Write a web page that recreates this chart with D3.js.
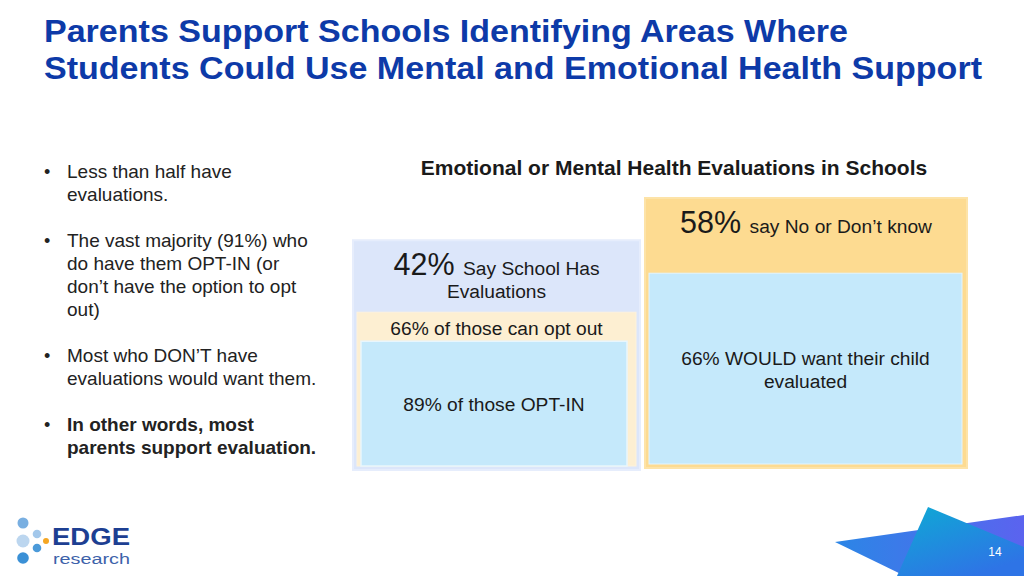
<!DOCTYPE html>
<html>
<head>
<meta charset="utf-8">
<script src="https://cdn.jsdelivr.net/npm/d3@7"></script>
<style>
  body { margin: 0; background: #fff; }
  svg { display: block; font-family: "Liberation Sans", Arial, sans-serif; }
</style>
</head>
<body>
<div id="chart-area"></div>
<script>
// data
var outerPct = [42, 58];
var outerText = ["Say School Has|Evaluations", "say No or Don’t know"];
var innerPct = [66, 66];
var innerText = ["of those can opt out", "WOULD want their child|evaluated"];
var subPct = [89];
var subText = ["of those OPT-IN"];

var bullets = [
    ["Less than half have", "evaluations."],
    ["The vast majority (91%) who", "do have them OPT-IN (or", "don’t have the option to opt", "out)"],
    ["Most who DON’T have", "evaluations would want them."],
    ["In other words, most", "parents support evaluation."]
];
var bulletBold = [false, false, false, true];

var width = 1024, height = 576;

var svg = d3.select("#chart-area")
    .append("svg")
        .attr("width", width)
        .attr("height", height);

var defs = svg.append("defs");

// Title
var titleLines = ["Parents Support Schools Identifying Areas Where",
    "Students Could Use Mental and Emotional Health Support"];
var titleLen = [804, 938];
svg.selectAll(".title")
    .data(titleLines)
    .enter().append("text")
        .attr("class", "title")
        .attr("x", 44)
        .attr("y", function(d, i){ return 42 + i * 37; })
        .attr("font-size", "31px")
        .attr("font-weight", "bold")
        .attr("fill", "#0d3aa8")
        .attr("textLength", function(d, i){ return titleLen[i]; })
        .attr("lengthAdjust", "spacingAndGlyphs")
        .text(function(d){ return d; });

// Bullets
var lineY = [178, 247, 362, 431];
bullets.forEach(function(lines, i){
    svg.append("text")
        .attr("x", 44)
        .attr("y", lineY[i])
        .attr("font-size", "18px")
        .attr("fill", "#222")
        .text("•");
    svg.selectAll(null)
        .data(lines)
        .enter().append("text")
            .attr("x", 67)
            .attr("y", function(d, j){ return lineY[i] + j * 23; })
            .attr("font-size", "19px")
            .attr("font-weight", bulletBold[i] ? "bold" : "normal")
            .attr("fill", "#222")
            .text(function(d){ return d; });
});

// Chart subtitle
svg.append("text")
    .attr("x", 674)
    .attr("y", 175)
    .attr("text-anchor", "middle")
    .attr("font-size", "21px")
    .attr("font-weight", "bold")
    .attr("fill", "#1a1a1a")
    .text("Emotional or Mental Health Evaluations in Schools");

// Scales
var cols = [{ x: 353, w: 287, base: 470 }, { x: 645, w: 322, base: 468 }];
var hOuter = d3.scaleSqrt()
    .domain([0, d3.max(outerPct)])
    .range([0, 270]);
var frac = d3.scalePow().exponent(0.8)
    .domain([0, 100])
    .range([0, 1]);

var outerFill = ["#dce6fa", "#fddb91"];
var outerStroke = ["#e6edfc", "#fde3a8"];
var innerFill = ["#fdefd2", "#c5e9fb"];
var blue = "#c5e9fb";
var labelSize = "19.2px";

function splitLabel(g, str, x, y, big, size){
    var parts = str.split("|");
    var t = g.append("text")
        .attr("x", x)
        .attr("y", y)
        .attr("text-anchor", "middle")
        .attr("fill", "#1a1a1a");
    if (big) {
        t.append("tspan").attr("font-size", "30.5px").text(big + " ");
    }
    t.append("tspan").attr("font-size", size).text(parts[0]);
    if (parts[1]) {
        g.append("text")
            .attr("x", x)
            .attr("y", y + 23)
            .attr("text-anchor", "middle")
            .attr("font-size", size)
            .attr("fill", "#1a1a1a")
            .text(parts[1]);
    }
}

outerPct.forEach(function(v, i){
    var c = cols[i];
    var g = svg.append("g");
    var oh = hOuter(v), ot = c.base - oh;

    g.append("rect")
        .attr("x", c.x).attr("y", ot)
        .attr("width", c.w).attr("height", oh)
        .attr("fill", outerFill[i])
        .attr("stroke", outerStroke[i])
        .attr("stroke-width", 2);

    splitLabel(g, outerText[i], c.x + c.w / 2, ot + 35, v + "%", labelSize);

    // inner box: scaled share of parent, leaving room for the parent label
    var ib = c.base - 4;
    var ih = frac(innerPct[i]) * (oh - 4);
    var it = Math.max(ib - ih, ot + 72);
    var ix = c.x + 4, iw = c.w - (i === 0 ? 8 : 9);
    g.append("rect")
        .attr("x", ix).attr("y", it)
        .attr("width", iw).attr("height", ib - it)
        .attr("fill", innerFill[i])
        .attr("stroke", i === 0 ? "#fdf2dc" : "#e3f4fd")
        .attr("stroke-width", 1);

    if (i === 0) {
        g.append("text")
            .attr("x", ix + iw / 2)
            .attr("y", it + 23)
            .attr("text-anchor", "middle")
            .attr("font-size", labelSize)
            .attr("fill", "#1a1a1a")
            .text(innerPct[i] + "% " + innerText[i]);

        var sh = frac(subPct[0]) * (ib - it);
        var st = Math.max(ib - sh, it + 29);
        var sx = ix + 4, sw = iw - 13;
        g.append("rect")
            .attr("x", sx).attr("y", st)
            .attr("width", sw).attr("height", ib - st)
            .attr("fill", blue)
            .attr("stroke", "#e8f6fd")
            .attr("stroke-width", 1.5);
        g.append("text")
            .attr("x", sx + sw / 2)
            .attr("y", (st + ib) / 2 + 7)
            .attr("text-anchor", "middle")
            .attr("font-size", labelSize)
            .attr("fill", "#1a1a1a")
            .text(subPct[0] + "% " + subText[0]);
    } else {
        var mid = (it + ib) / 2;
        splitLabel(g, innerPct[i] + "% " + innerText[i], ix + iw / 2, mid - 4, null, labelSize);
    }
});

// Logo
var dots = [
    { x: 23, y: 523, r: 5.5, c: "#79afe1" },
    { x: 23, y: 541, r: 6.5, c: "#bcd6ef" },
    { x: 23, y: 558, r: 5.8, c: "#3a90d6" },
    { x: 37, y: 534, r: 4.3, c: "#a3c8eb" },
    { x: 37, y: 548, r: 4.3, c: "#4b9ad9" },
    { x: 46, y: 541, r: 3, c: "#f5a623" }
];
svg.selectAll(".dot")
    .data(dots)
    .enter().append("circle")
        .attr("class", "dot")
        .attr("cx", function(d){ return d.x; })
        .attr("cy", function(d){ return d.y; })
        .attr("r", function(d){ return d.r; })
        .attr("fill", function(d){ return d.c; });
svg.append("text")
    .attr("x", 52).attr("y", 545)
    .attr("font-size", "23px")
    .attr("font-weight", "bold")
    .attr("fill", "#1d3f92")
    .attr("textLength", 78)
    .attr("lengthAdjust", "spacingAndGlyphs")
    .text("EDGE");
svg.append("text")
    .attr("x", 53).attr("y", 564)
    .attr("font-size", "15.5px")
    .attr("fill", "#3d62aa")
    .attr("textLength", 77)
    .attr("lengthAdjust", "spacingAndGlyphs")
    .text("research");

// Corner shapes
var g1 = defs.append("linearGradient").attr("id", "gBack")
    .attr("x1", "0%").attr("y1", "0%").attr("x2", "100%").attr("y2", "0%");
g1.append("stop").attr("offset", "0%").attr("stop-color", "#2b86e6");
g1.append("stop").attr("offset", "100%").attr("stop-color", "#5b63ef");
var g2 = defs.append("linearGradient").attr("id", "gFront")
    .attr("x1", "0%").attr("y1", "0%").attr("x2", "60%").attr("y2", "100%");
g2.append("stop").attr("offset", "0%").attr("stop-color", "#0eaad4");
g2.append("stop").attr("offset", "100%").attr("stop-color", "#2e74e6");

svg.append("polygon")
    .attr("points", "835,542 1024,515 1024,576 905,576")
    .attr("fill", "url(#gBack)");
svg.append("polygon")
    .attr("points", "928,507 1024,547 1024,576 897,576")
    .attr("fill", "url(#gFront)");
svg.append("text")
    .attr("x", 995).attr("y", 556)
    .attr("text-anchor", "middle")
    .attr("font-size", "12px")
    .attr("fill", "#fff")
    .text("14");
</script>
</body>
</html>
